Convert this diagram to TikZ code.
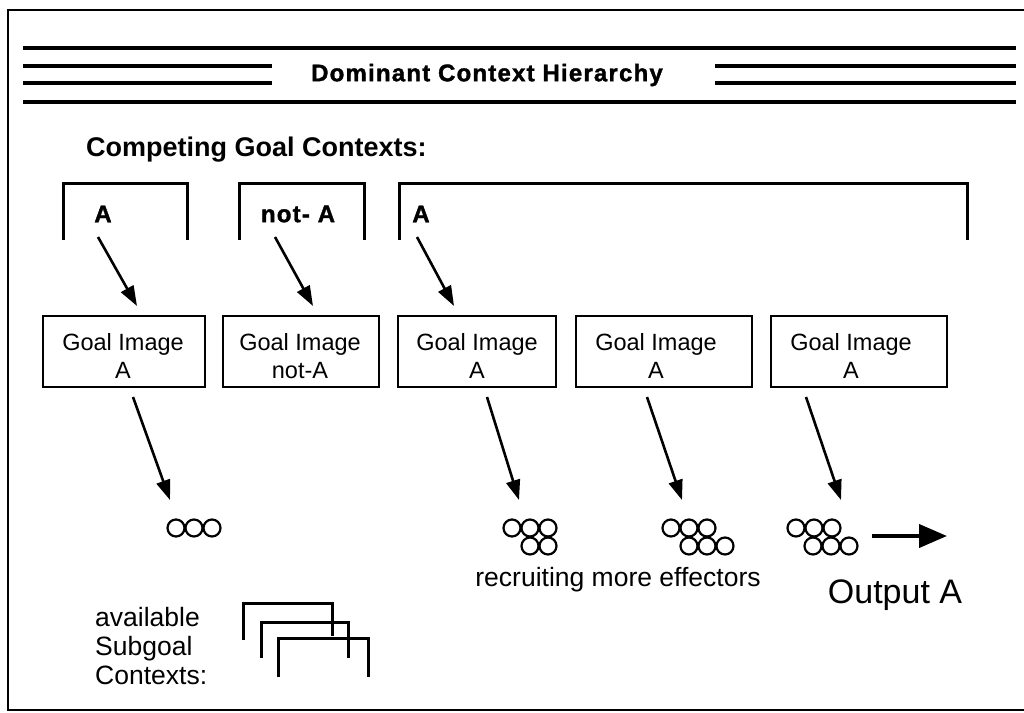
\documentclass[tikz,border=0pt]{standalone}
\usepackage{fontspec}
\setmainfont{Liberation Sans}
\newfontfamily\chicago{Liberation Sans}[LetterSpace=5, BoldFeatures={FakeBold=1.5}]
\usetikzlibrary{arrows.meta}
\begin{document}
\begin{tikzpicture}[x=1pt,y=-1pt,
  frame/.style={line width=2.4pt},
  hline/.style={line width=3.4pt},
  bracket/.style={line width=3pt},
  gbox/.style={draw, line width=1.8pt, inner sep=0pt, anchor=north west, minimum height=71pt},
  gtext/.style={align=center, font=\fontsize{23.5}{28}\selectfont},
  chic/.style={font=\chicago\bfseries\fontsize{24}{28}\selectfont},
  plain/.style={font=\fontsize{26.5}{29}\selectfont},
  ptr/.style={line width=2.6pt, -{Triangle[length=20pt,width=14pt]}},
  eff/.style={line width=2.2pt}]
\fill[white] (0,0) rectangle (1024,712);
\useasboundingbox (0,0) rectangle (1024,712);
% outer frame
\draw[frame] (1024,10) -- (8,10) -- (8,710) -- (1024,710);
% header lines
\draw[hline] (23,48) -- (1016,48);
\draw[hline] (23,102) -- (1016,102);
\draw[hline] (23,66) -- (272,66);
\draw[hline] (23,83) -- (272,83);
\draw[hline] (715,66) -- (1016,66);
\draw[hline] (715,83) -- (1016,83);
\node[chic] (title) at (487,75) {Dominant Context Hierarchy};
% competing goal contexts
\node[font=\bfseries\fontsize{27}{30}\selectfont, anchor=west, inner sep=0pt] (cgc) at (86,150) {Competing Goal Contexts:};
\draw[bracket] (63,240) -- (63,183) -- (187,183) -- (187,240);
\draw[bracket] (239,240) -- (239,183) -- (364,183) -- (364,240);
\draw[bracket] (399,240) -- (399,183) -- (967,183) -- (967,240);
\node[chic] (l1) at (103,214) {A};
\node[chic] (l2) at (298,214) {not- A};
\node[chic] (l3) at (421,214) {A};
% goal image boxes
\node[gbox, minimum width=162pt] (g1) at (42,315) {};
\node[gbox, minimum width=156pt] (g2) at (222,315) {};
\node[gbox, minimum width=158pt] (g3) at (397,315) {};
\node[gbox, minimum width=176pt] (g4) at (575,315) {};
\node[gbox, minimum width=176pt] (g5) at (770,315) {};
\node[gtext] (t1) at (123,356) {Goal Image\\A};
\node[gtext] (t2) at (300,356) {Goal Image\\not-A};
\node[gtext] (t3) at (477,356) {Goal Image\\A};
\node[gtext] (t4) at (656,356) {Goal Image\\A};
\node[gtext] (t5) at (851,356) {Goal Image\\A};
% arrows from contexts to goal images
\coordinate (a1s) at (98,237);  \coordinate (a1e) at (137,306);
\coordinate (a2s) at (275,237); \coordinate (a2e) at (313,306);
\coordinate (a3s) at (417,237); \coordinate (a3e) at (454,306);
\draw[ptr] (a1s) -- (a1e);
\draw[ptr] (a2s) -- (a2e);
\draw[ptr] (a3s) -- (a3e);
% arrows from goal images to effectors
\coordinate (b1s) at (133,397); \coordinate (b1e) at (170,500);
\coordinate (b3s) at (487,397); \coordinate (b3e) at (519,500);
\coordinate (b4s) at (647,397); \coordinate (b4e) at (682,500);
\coordinate (b5s) at (806,397); \coordinate (b5e) at (841,500);
\draw[ptr] (b1s) -- (b1e);
\draw[ptr] (b3s) -- (b3e);
\draw[ptr] (b4s) -- (b4e);
\draw[ptr] (b5s) -- (b5e);
% effector clusters
\foreach \cx in {176,194,212} \draw[eff] (\cx,528) circle (8.5);
\foreach \cx in {512,530,548} \draw[eff] (\cx,528) circle (8.5);
\foreach \cx in {530,548} \draw[eff] (\cx,546) circle (8.5);
\foreach \cx in {671,689,707} \draw[eff] (\cx,528) circle (8.5);
\foreach \cx in {689,707,725} \draw[eff] (\cx,546) circle (8.5);
\foreach \cx in {796,814,832} \draw[eff] (\cx,528) circle (8.5);
\foreach \cx in {813,831,849} \draw[eff] (\cx,546) circle (8.5);
% output arrow
\coordinate (os) at (872,536); \coordinate (oe) at (947,536);
\draw[line width=4pt, -{Triangle[length=28pt,width=23pt]}] (os) -- (oe);
\node[plain] (rec) at (618,580) {recruiting more effectors};
\node[font=\fontsize{34}{40}\selectfont] (out) at (895,595) {Output A};
% available subgoal contexts
\node[plain, align=left, anchor=west, inner sep=0pt] (avail) at (95,646) {available\\Subgoal\\Contexts:};
\draw[bracket] (243,640) -- (243,603) -- (332,603) -- (332,636);
\draw[bracket] (261,658) -- (261,622) -- (348,622) -- (348,658);
\draw[bracket] (278,677) -- (278,638) -- (368,638) -- (368,677);
\end{tikzpicture}
\end{document}
